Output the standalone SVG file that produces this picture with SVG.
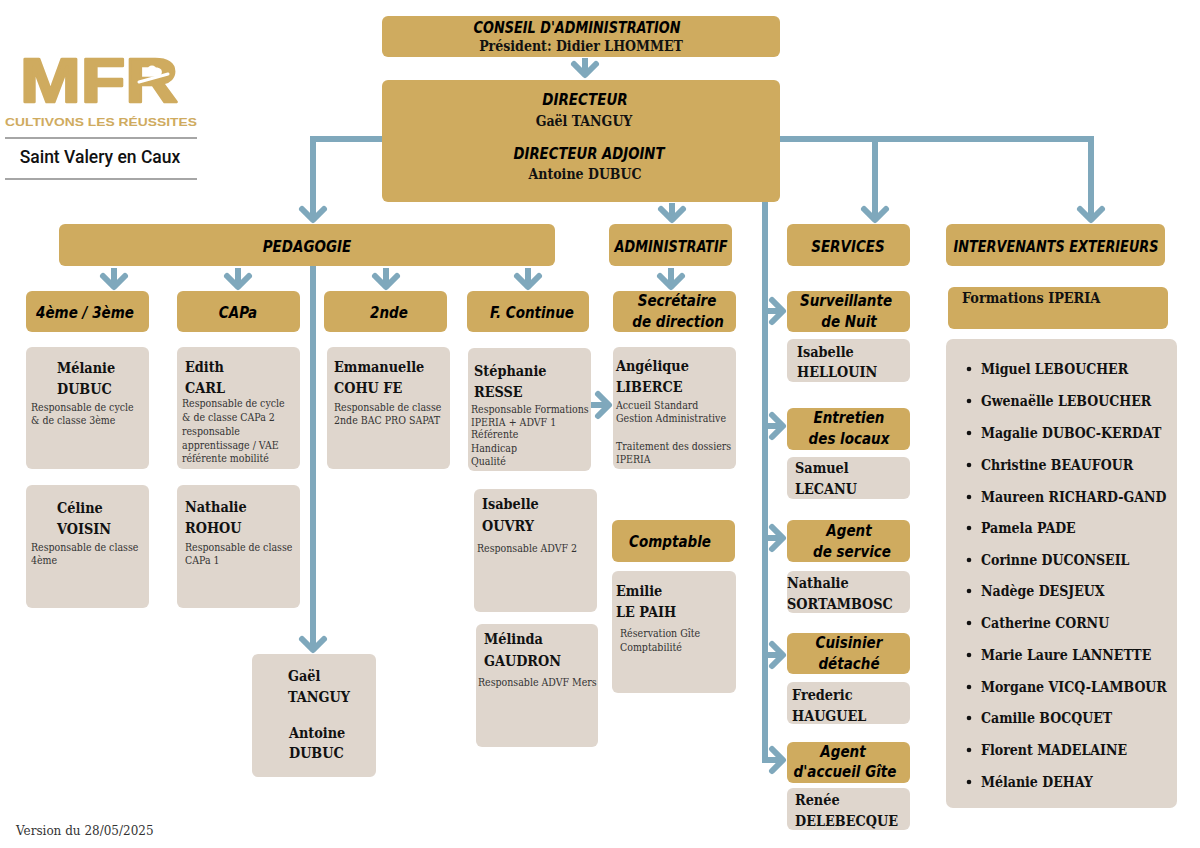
<svg xmlns="http://www.w3.org/2000/svg" width="1200" height="848" viewBox="0 0 1200 848">
<defs>
<style>
.gold{fill:#CFAB5F}
.card{fill:#DFD6CD}
.conn{fill:none;stroke:#7FA8BC;stroke-width:6}
.h{font-family:"DejaVu Sans Condensed","DejaVu Sans",sans-serif;font-weight:bold;font-style:italic;font-size:15px;fill:#000;text-anchor:middle}
.n{font-family:"DejaVu Serif Condensed","DejaVu Serif",serif;font-weight:bold;font-size:14.3px;fill:#111}
.nc{font-family:"DejaVu Serif Condensed","DejaVu Serif",serif;font-weight:bold;font-size:14px;fill:#111;text-anchor:middle}
.d{font-family:"DejaVu Serif Condensed","DejaVu Serif",serif;font-size:10.5px;fill:#333}
.li{font-family:"DejaVu Serif Condensed","DejaVu Serif",serif;font-weight:bold;font-size:14px;fill:#111}
</style>
<marker id="ah" markerUnits="userSpaceOnUse" markerWidth="40" markerHeight="40" viewBox="-20 -20 40 40" refX="0" refY="0" orient="auto" overflow="visible">
<path d="M-11,-11 L0,0 L-11,11" fill="none" stroke="#7FA8BC" stroke-width="6" stroke-linecap="round" stroke-linejoin="round"/>
</marker>
</defs>
<rect width="1200" height="848" fill="#FFFFFF"/>

<g id="logo">
<text x="20" y="102" font-family="Liberation Sans,Arial,sans-serif" font-weight="bold" font-size="63" fill="#CFAB5F" stroke="#CFAB5F" stroke-width="2.5" stroke-linejoin="round" textLength="158" lengthAdjust="spacingAndGlyphs">MFR</text>
<circle cx="152" cy="70" r="4.5" fill="#FFFFFF"/>
<path d="M139,82 L168,74" fill="none" stroke="#FFFFFF" stroke-width="3" stroke-linecap="round"/>
<text x="5" y="125.5" font-family="Liberation Sans,Arial,sans-serif" font-weight="bold" font-size="11" fill="#CFAB5F" textLength="192" lengthAdjust="spacingAndGlyphs">CULTIVONS LES RÉUSSITES</text>
<line x1="5" y1="138" x2="197" y2="138" stroke="#888" stroke-width="1.5"/>
<text x="100" y="163" font-family="Roboto,sans-serif" font-weight="500" font-size="17.5" fill="#111" text-anchor="middle">Saint Valery en Caux</text>
<line x1="5" y1="179" x2="197" y2="179" stroke="#888" stroke-width="1.5"/>
</g>

<g id="connectors">
<path class="conn" d="M585,58 V75" marker-end="url(#ah)"/>
<path class="conn" d="M382,139 H313 V220" marker-end="url(#ah)"/>
<path class="conn" d="M780,139 H1091 V220" marker-end="url(#ah)"/>
<path class="conn" d="M875,139 V220" marker-end="url(#ah)"/>
<path class="conn" d="M672,203 V220" marker-end="url(#ah)"/>
<path class="conn" d="M765,202 V760 H783" marker-end="url(#ah)"/>
<path class="conn" d="M765,311 H783" marker-end="url(#ah)"/>
<path class="conn" d="M765,426 H783" marker-end="url(#ah)"/>
<path class="conn" d="M765,538 H783" marker-end="url(#ah)"/>
<path class="conn" d="M765,655 H783" marker-end="url(#ah)"/>
<path class="conn" d="M114,268 V287" marker-end="url(#ah)"/>
<path class="conn" d="M238,268 V287" marker-end="url(#ah)"/>
<path class="conn" d="M386,268 V287" marker-end="url(#ah)"/>
<path class="conn" d="M528,268 V287" marker-end="url(#ah)"/>
<path class="conn" d="M671,268 V287" marker-end="url(#ah)"/>
<path class="conn" d="M313,266 V650" marker-end="url(#ah)"/>
<path class="conn" d="M591,405 H609" marker-end="url(#ah)"/>
</g>

<g id="conseil">
<rect class="gold" x="382" y="16" width="398" height="41" rx="6"/>
<text class="h" x="577" y="33" font-size="16" textLength="207" lengthAdjust="spacingAndGlyphs">CONSEIL D'ADMINISTRATION</text>
<text class="nc" x="581" y="51">Président: Didier LHOMMET</text>
</g>

<g id="directeur">
<rect class="gold" x="382" y="80" width="398" height="122" rx="6"/>
<text class="h" x="585" y="105" font-size="16">DIRECTEUR</text>
<text class="nc" x="584" y="126">Gaël TANGUY</text>
<text class="h" x="589" y="159" font-size="16" textLength="151" lengthAdjust="spacingAndGlyphs">DIRECTEUR ADJOINT</text>
<text class="nc" x="585" y="179">Antoine DUBUC</text>
</g>

<g id="pedagogie">
<rect class="gold" x="59" y="224" width="496" height="42" rx="6"/>
<text class="h" x="307" y="252">PEDAGOGIE</text>
</g>
<g id="administratif">
<rect class="gold" x="609" y="224" width="123" height="42" rx="6"/>
<text class="h" x="671" y="252" textLength="113" lengthAdjust="spacingAndGlyphs">ADMINISTRATIF</text>
</g>
<g id="services">
<rect class="gold" x="787" y="224" width="123" height="42" rx="6"/>
<text class="h" x="848" y="252">SERVICES</text>
</g>
<g id="intervenants">
<rect class="gold" x="946" y="224" width="219" height="42" rx="6"/>
<text class="h" x="1056" y="252" textLength="205" lengthAdjust="spacingAndGlyphs">INTERVENANTS EXTERIEURS</text>
</g>

<g id="quatrieme">
<rect class="gold" x="26" y="291" width="123" height="41" rx="6"/>
<text class="h" x="85" y="318">4ème / 3ème</text>
</g>
<g id="capa">
<rect class="gold" x="177" y="291" width="123" height="41" rx="6"/>
<text class="h" x="238" y="318">CAPa</text>
</g>
<g id="seconde">
<rect class="gold" x="324" y="291" width="123" height="41" rx="6"/>
<text class="h" x="389" y="318">2nde</text>
</g>
<g id="fcontinue">
<rect class="gold" x="467" y="291" width="122" height="41" rx="6"/>
<text class="h" x="532" y="318">F. Continue</text>
</g>
<g id="secretaire">
<rect class="gold" x="613" y="291" width="123" height="41" rx="6"/>
<text class="h" x="677" y="306">Secrétaire</text>
<text class="h" x="678" y="327">de direction</text>
</g>
<g id="comptable">
<rect class="gold" x="612" y="520" width="123" height="42" rx="6"/>
<text class="h" x="670" y="547">Comptable</text>
</g>
<g id="surveillante">
<rect class="gold" x="787" y="291" width="123" height="41" rx="6"/>
<text class="h" x="846" y="306">Surveillante</text>
<text class="h" x="849" y="327">de Nuit</text>
</g>
<g id="entretien">
<rect class="gold" x="787" y="408" width="123" height="42" rx="6"/>
<text class="h" x="849" y="423">Entretien</text>
<text class="h" x="849" y="444">des locaux</text>
</g>
<g id="agentservice">
<rect class="gold" x="787" y="520" width="123" height="42" rx="6"/>
<text class="h" x="849" y="536">Agent</text>
<text class="h" x="852" y="557">de service</text>
</g>
<g id="cuisinier">
<rect class="gold" x="787" y="633" width="123" height="41" rx="6"/>
<text class="h" x="849" y="648">Cuisinier</text>
<text class="h" x="849" y="669">détaché</text>
</g>
<g id="accueil">
<rect class="gold" x="787" y="742" width="123" height="41" rx="6"/>
<text class="h" x="843" y="757">Agent</text>
<text class="h" x="845" y="777">d'accueil Gîte</text>
</g>
<g id="iperia">
<rect class="gold" x="948" y="287" width="220" height="42" rx="6"/>
<text class="n" x="962" y="303" font-size="14.6">Formations IPERIA</text>
</g>

<g id="melanie">
<rect class="card" x="26" y="347" width="123" height="122" rx="6"/>
<text class="n" x="57" y="373">Mélanie</text>
<text class="n" x="57" y="394">DUBUC</text>
<text class="d" x="31" y="411">Responsable de cycle</text>
<text class="d" x="31" y="424">&amp; de classe 3ème</text>
</g>
<g id="celine">
<rect class="card" x="26" y="485" width="123" height="123" rx="6"/>
<text class="n" x="57" y="513">Céline</text>
<text class="n" x="57" y="534">VOISIN</text>
<text class="d" x="31" y="551">Responsable de classe</text>
<text class="d" x="31" y="564">4ème</text>
</g>
<g id="edith">
<rect class="card" x="177" y="347" width="123" height="122" rx="6"/>
<text class="n" x="185" y="372">Edith</text>
<text class="n" x="185" y="393">CARL</text>
<text class="d" x="182" y="407">Responsable de cycle</text>
<text class="d" x="182" y="421">&amp; de classe CAPa 2</text>
<text class="d" x="182" y="435">responsable</text>
<text class="d" x="182" y="449">apprentissage / VAE</text>
<text class="d" x="182" y="462">référente mobilité</text>
</g>
<g id="nathalierohou">
<rect class="card" x="177" y="485" width="123" height="123" rx="6"/>
<text class="n" x="185" y="512">Nathalie</text>
<text class="n" x="185" y="533">ROHOU</text>
<text class="d" x="185" y="551">Responsable de classe</text>
<text class="d" x="185" y="564">CAPa 1</text>
</g>
<g id="emmanuelle">
<rect class="card" x="327" y="347" width="123" height="122" rx="6"/>
<text class="n" x="334" y="372">Emmanuelle</text>
<text class="n" x="334" y="393">COHU FE</text>
<text class="d" x="334" y="411">Responsable de classe</text>
<text class="d" x="334" y="424">2nde BAC PRO SAPAT</text>
</g>
<g id="stephanie">
<rect class="card" x="468" y="348" width="123" height="123" rx="6"/>
<text class="n" x="474" y="376">Stéphanie</text>
<text class="n" x="474" y="397">RESSE</text>
<text class="d" x="471" y="413">Responsable Formations</text>
<text class="d" x="471" y="426">IPERIA + ADVF 1</text>
<text class="d" x="471" y="438">Référente</text>
<text class="d" x="471" y="452">Handicap</text>
<text class="d" x="471" y="465">Qualité</text>
</g>
<g id="isabelleouvry">
<rect class="card" x="474" y="489" width="123" height="123" rx="6"/>
<text class="n" x="482" y="509">Isabelle</text>
<text class="n" x="482" y="531">OUVRY</text>
<text class="d" x="477" y="552">Responsable ADVF 2</text>
</g>
<g id="melinda">
<rect class="card" x="476" y="624" width="122" height="123" rx="6"/>
<text class="n" x="484" y="644">Mélinda</text>
<text class="n" x="484" y="666">GAUDRON</text>
<text class="d" x="478" y="686">Responsable ADVF Mers</text>
</g>
<g id="direction-card">
<rect class="card" x="252" y="654" width="124" height="123" rx="6"/>
<text class="n" x="288" y="681">Gaël</text>
<text class="n" x="288" y="702">TANGUY</text>
<text class="n" x="289" y="738">Antoine</text>
<text class="n" x="289" y="758">DUBUC</text>
</g>
<g id="angelique">
<rect class="card" x="613" y="347" width="123" height="122" rx="6"/>
<text class="n" x="616" y="371">Angélique</text>
<text class="n" x="616" y="392">LIBERCE</text>
<text class="d" x="616" y="409">Accueil Standard</text>
<text class="d" x="616" y="422">Gestion Administrative</text>
<text class="d" x="616" y="450">Traitement des dossiers</text>
<text class="d" x="616" y="463">IPERIA</text>
</g>
<g id="emilie">
<rect class="card" x="612" y="571" width="124" height="122" rx="6"/>
<text class="n" x="616" y="596">Emilie</text>
<text class="n" x="616" y="617">LE PAIH</text>
<text class="d" x="620" y="637">Réservation Gîte</text>
<text class="d" x="620" y="651">Comptabilité</text>
</g>
<g id="hellouin">
<rect class="card" x="787" y="339" width="123" height="43" rx="6"/>
<text class="n" x="797" y="357">Isabelle</text>
<text class="n" x="797" y="377">HELLOUIN</text>
</g>
<g id="lecanu">
<rect class="card" x="787" y="457" width="123" height="42" rx="6"/>
<text class="n" x="795" y="473">Samuel</text>
<text class="n" x="795" y="494">LECANU</text>
</g>
<g id="sortambosc">
<rect class="card" x="787" y="571" width="123" height="42" rx="6"/>
<text class="n" x="787" y="588">Nathalie</text>
<text class="n" x="787" y="609">SORTAMBOSC</text>
</g>
<g id="hauguel">
<rect class="card" x="787" y="682" width="123" height="42" rx="6"/>
<text class="n" x="792" y="700">Frederic</text>
<text class="n" x="792" y="721">HAUGUEL</text>
</g>
<g id="delebecque">
<rect class="card" x="787" y="788" width="123" height="42" rx="6"/>
<text class="n" x="795" y="805">Renée</text>
<text class="n" x="795" y="826">DELEBECQUE</text>
</g>

<g id="liste-intervenants">
<rect class="card" x="946" y="339" width="231" height="469" rx="7"/>
<g fill="#111">
<circle cx="969" cy="369" r="2.3"/><circle cx="969" cy="401" r="2.3"/><circle cx="969" cy="433" r="2.3"/><circle cx="969" cy="465" r="2.3"/><circle cx="969" cy="497" r="2.3"/><circle cx="969" cy="528" r="2.3"/><circle cx="969" cy="560" r="2.3"/><circle cx="969" cy="591" r="2.3"/><circle cx="969" cy="623" r="2.3"/><circle cx="969" cy="655" r="2.3"/><circle cx="969" cy="687" r="2.3"/><circle cx="969" cy="718" r="2.3"/><circle cx="969" cy="750" r="2.3"/><circle cx="969" cy="782" r="2.3"/>
</g>
<text class="li" x="981" y="374">Miguel LEBOUCHER</text>
<text class="li" x="981" y="406">Gwenaëlle LEBOUCHER</text>
<text class="li" x="981" y="438">Magalie DUBOC-KERDAT</text>
<text class="li" x="981" y="470">Christine BEAUFOUR</text>
<text class="li" x="981" y="502">Maureen RICHARD-GAND</text>
<text class="li" x="981" y="533">Pamela PADE</text>
<text class="li" x="981" y="565">Corinne DUCONSEIL</text>
<text class="li" x="981" y="596">Nadège DESJEUX</text>
<text class="li" x="981" y="628">Catherine CORNU</text>
<text class="li" x="981" y="660">Marie Laure LANNETTE</text>
<text class="li" x="981" y="692">Morgane VICQ-LAMBOUR</text>
<text class="li" x="981" y="723">Camille BOCQUET</text>
<text class="li" x="981" y="755">Florent MADELAINE</text>
<text class="li" x="981" y="787">Mélanie DEHAY</text>
</g>

<text x="16" y="835" font-family="DejaVu Serif,serif" font-size="12" fill="#333">Version du 28/05/2025</text>
</svg>
